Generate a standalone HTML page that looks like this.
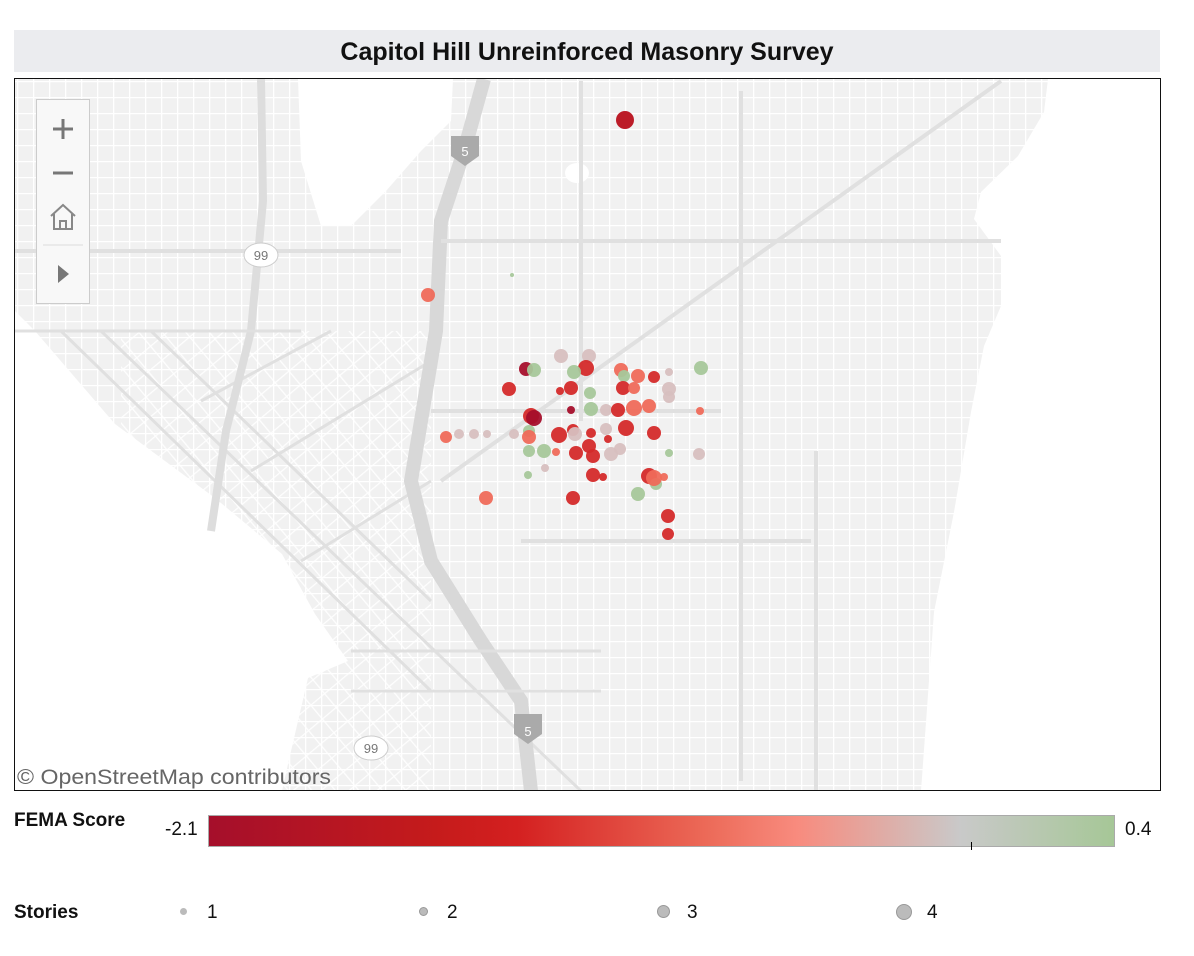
<!DOCTYPE html>
<html><head><meta charset="utf-8"><style>
body{margin:0;width:1194px;height:956px;background:#fff;font-family:"Liberation Sans",Arial,sans-serif;position:relative;overflow:hidden}
.t{position:absolute;left:14px;top:30px;width:1146px;height:42px;background:#ebecef;text-align:center;font-weight:bold;font-size:25px;line-height:44px;color:#111}
.map{position:absolute;left:14px;top:78px;width:1145px;height:711px;border:1.5px solid #111;overflow:hidden;background:#f1f1f1}
.lbl{position:absolute;font-size:19px;color:#111}
</style></head><body>
<div class="t">Capitol Hill Unreinforced Masonry Survey</div>
<div class="map">
<svg width="1145" height="711" viewBox="14 78 1145 711" xmlns="http://www.w3.org/2000/svg">
<defs>
<pattern id="g" x="0" y="0" width="16" height="16" patternUnits="userSpaceOnUse"><path d="M0 .5H16M.5 0V16" stroke="#fff" stroke-width="1.6"/></pattern>
<pattern id="g2" x="0" y="0" width="18" height="18" patternUnits="userSpaceOnUse" patternTransform="rotate(-40)"><path d="M0 .5H18M.5 0V18" stroke="#fff" stroke-width="1.6"/></pattern>
</defs>
<rect x="14" y="78" width="1145" height="711" fill="url(#g)"/>
<polygon points="120,330 430,330 430,790 120,790" fill="url(#g2)" opacity=".9"/>
<path d="M100,330 L580,790 M60,330 L430,690 M150,330 L430,600" stroke="#e0e0e0" stroke-width="3" fill="none"/>
<path d="M200,400 L330,330 M250,470 L430,360 M300,560 L430,480" stroke="#e0e0e0" stroke-width="3" fill="none"/>
<path d="M297,78 L452,78 L450,120 L420,150 L385,190 L350,225 L320,225 L300,160 Z" fill="#fff"/>
<ellipse cx="576" cy="172" rx="12" ry="10" fill="#fff"/>
<path d="M14,310 L34,330 L114,423 L214,497 L281,553 L314,613 L347,660 L307,677 L294,733 L287,763 L281,790 L14,790 Z" fill="#fff"/>
<path d="M1160,78 L1047,78 L1043,111 L1017,155 L980,191 L973,218 L1000,255 L1000,305 L983,345 L970,411 L953,511 L933,611 L920,790 L1160,790 Z" fill="#fff"/>
<path d="M260,78 L262,200 L250,330 L225,430 L210,530" stroke="#ddd" stroke-width="8" fill="none"/>
<path d="M483,78 L463,150 L440,220 L435,330 L420,420 L410,480 L430,560 L480,640 L520,700 L530,790" stroke="#d8d8d8" stroke-width="14" fill="none"/>
<path d="M14,250 L400,250 M440,240 L1000,240 M430,410 L720,410 M520,540 L810,540 M740,90 L740,780 M815,450 L815,790 M440,480 L1000,80 M580,80 L580,420" stroke="#e0e0e0" stroke-width="4" fill="none"/>
<path d="M350,650 L600,650 M350,690 L600,690 M14,330 L300,330" stroke="#e0e0e0" stroke-width="3" fill="none"/>
<path d="M450,135 L478,135 L478,155 L464,165 L450,155 Z" fill="#aaa"/><text x="464" y="155" font-size="13" fill="#fff" text-anchor="middle">5</text>
<path d="M513,713 L541,713 L541,733 L527,743 L513,733 Z" fill="#aaa"/><text x="527" y="735" font-size="13" fill="#fff" text-anchor="middle">5</text>
<ellipse cx="260" cy="254" rx="17" ry="12" fill="#fff" stroke="#ccc"/><text x="260" y="259" font-size="13" fill="#777" text-anchor="middle">99</text>
<ellipse cx="370" cy="747" rx="17" ry="12" fill="#fff" stroke="#ccc"/><text x="370" y="752" font-size="13" fill="#777" text-anchor="middle">99</text>
<text x="16" y="783" font-size="21" fill="#666" textLength="314" lengthAdjust="spacingAndGlyphs">© OpenStreetMap contributors</text>
<rect x="35.5" y="98.5" width="53" height="204" fill="#f8f8f8" stroke="#ccc"/>
<path d="M52 128H72M62 118V138M52 172H72" stroke="#777" stroke-width="3"/>
<path d="M50 215L62 204L74 215M53 213V228H71V213M59 228V220H65V228" stroke="#888" stroke-width="2" fill="none"/>
<path d="M42 244H82" stroke="#ddd"/><path d="M57 264L68 273L57 282Z" fill="#777"/>
<g id="d"></g>
</svg>
</div>
<div class="lbl" style="left:14px;top:810px;font-weight:bold">FEMA Score</div>
<div class="lbl" style="left:165px;top:819px">-2.1</div>
<div style="position:absolute;left:208px;top:815px;width:905px;height:30px;border:1.5px solid #aaa;background:linear-gradient(90deg,#a50f2b 0%,#c51b1b 25%,#d42020 34%,#ec6a58 55%,#f88b7e 65%,#c9c9c9 83%,#a6c797 100%)"></div>
<div style="position:absolute;left:971px;top:842px;width:1px;height:8px;background:#000"></div>
<div class="lbl" style="left:1125px;top:819px">0.4</div>
<div class="lbl" style="left:14px;top:902px;font-weight:bold">Stories</div>
<div style="position:absolute;left:180px;top:908px;width:7px;height:7px;border-radius:50%;background:#bbb"></div><div class="lbl" style="left:207px;top:902px">1</div>
<div style="position:absolute;left:419px;top:907px;width:9px;height:9px;border-radius:50%;background:#bbb;border:1px solid #999;box-sizing:border-box"></div><div class="lbl" style="left:447px;top:902px">2</div>
<div style="position:absolute;left:657px;top:905px;width:13px;height:13px;border-radius:50%;background:#bbb;border:1.5px solid #999;box-sizing:border-box"></div><div class="lbl" style="left:687px;top:902px">3</div>
<div style="position:absolute;left:896px;top:904px;width:16px;height:16px;border-radius:50%;background:#bbb;border:1.5px solid #999;box-sizing:border-box"></div><div class="lbl" style="left:927px;top:902px">4</div>
<script>
var C={D:"#a50f2b",R:"#d42a2a",S:"#ef6a5a",P:"#d7bfbf",G:"#a7c79a",K:"#b8101c"};
var d=[[624,119,9,"K"],[427,294,7,"S"],[511,274,2,"G"],[525,368,7,"D"],[533,369,7,"G"],[560,355,7,"P"],[588,355,7,"P"],[585,367,8,"R"],[573,371,7,"G"],[620,369,7,"S"],[623,375,6,"G"],[637,375,7,"S"],[653,376,6,"R"],[668,371,4,"P"],[700,367,7,"G"],[508,388,7,"R"],[559,390,4,"R"],[570,387,7,"R"],[589,392,6,"G"],[622,387,7,"R"],[633,387,6,"S"],[668,388,7,"P"],[668,396,6,"P"],[530,415,8,"R"],[533,417,8,"D"],[570,409,4,"D"],[590,408,7,"G"],[605,409,6,"P"],[617,409,7,"R"],[633,407,8,"S"],[648,405,7,"S"],[699,410,4,"S"],[445,436,6,"S"],[458,433,5,"P"],[473,433,5,"P"],[486,433,4,"P"],[513,433,5,"P"],[528,430,6,"G"],[528,436,7,"S"],[558,434,8,"R"],[572,429,6,"R"],[574,433,7,"P"],[590,432,5,"R"],[605,428,6,"P"],[625,427,8,"R"],[653,432,7,"R"],[607,438,4,"R"],[528,450,6,"G"],[543,450,7,"G"],[555,451,4,"S"],[575,452,7,"R"],[588,445,7,"R"],[592,455,7,"R"],[610,453,7,"P"],[619,448,6,"P"],[668,452,4,"G"],[698,453,6,"P"],[544,467,4,"P"],[527,474,4,"G"],[592,474,7,"R"],[602,476,4,"R"],[648,475,8,"R"],[655,483,6,"G"],[653,477,8,"S"],[663,476,4,"S"],[637,493,7,"G"],[485,497,7,"S"],[572,497,7,"R"],[667,515,7,"R"],[667,533,6,"R"]];
var g=document.getElementById("d"),s="";
d.forEach(function(p){s+='<circle cx="'+p[0]+'" cy="'+p[1]+'" r="'+p[2]+'" fill="'+C[p[3]]+'" opacity=".95"/>';});
g.innerHTML=s;
</script>
</body></html>
